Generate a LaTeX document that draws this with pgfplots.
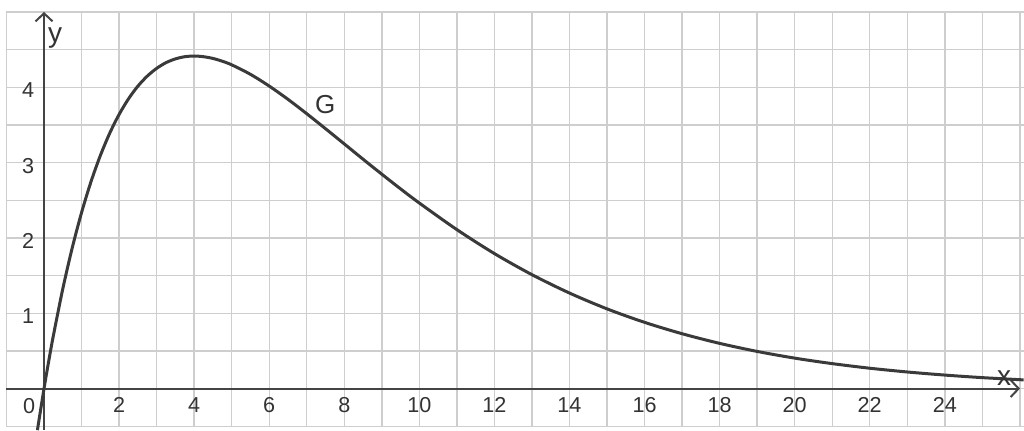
\documentclass[border=0pt]{standalone}
\usepackage{fontspec}
\setmainfont{Liberation Sans}
\usepackage{pgfplots}
\pgfplotsset{compat=1.18}
\usetikzlibrary{arrows.meta}
\definecolor{gridgray}{RGB}{206,206,206}
\definecolor{axisgray}{RGB}{68,68,68}
\definecolor{curvegray}{RGB}{58,58,58}
\definecolor{labelgray}{RGB}{51,51,51}

\begin{document}
\begin{tikzpicture}
\begin{axis}[
  scale only axis,
  width=508.7pt, height=207.1pt,
  xmin=-1, xmax=26.11, ymin=-0.5, ymax=5,
  axis lines=middle,
  axis line style={draw=axisgray, line width=1pt},
  x axis line style={-{Straight Barb[length=4pt,width=8.5pt]}, shorten >=2pt},
  y axis line style={-{Straight Barb[length=4pt,width=8.5pt]}, shorten <=-2pt},
  xtick={2,4,...,24}, ytick={1,2,3,4},
  minor xtick={-1,0,...,26}, minor ytick={-0.5,0,...,5},
  grid=both,
  major grid style={draw=gridgray, line width=0.7pt},
  minor grid style={draw=gridgray, line width=0.7pt},
  major tick length=0pt, minor tick length=0pt,
  tick label style={font=\fontsize{10.8}{12}\selectfont, text=labelgray},
  xticklabel style={yshift=-0.8pt},
  yticklabel style={xshift=-1.4pt, yshift=-1.5pt},
  /pgf/number format/assume math mode=true,
  clip=false,
]
\addplot[curvegray, line width=1.5pt, smooth] coordinates {
  (-0.176,-0.552) (0,0) (0.125,0.364) (0.25,0.705) (0.5,1.324) (0.75,1.865)
  (1,2.336) (1.25,2.744) (1.5,3.093) (1.75,3.390) (2,3.639) (2.25,3.846)
  (2.5,4.015) (2.75,4.148) (3,4.251) (3.25,4.327) (3.5,4.377) (3.75,4.406)
  (4,4.415) (4.25,4.406) (4.5,4.383) (4.75,4.346) (5,4.298) (5.5,4.172)
  (6,4.016) (6.5,3.840) (7,3.649) (7.5,3.450) (8,3.248) (8.5,3.045)
  (9,2.846) (9.5,2.651) (10,2.463) (11,2.110) (12,1.792) (13,1.512)
  (14,1.268) (15,1.058) (16,0.879) (17,0.728) (18,0.600) (19,0.493)
  (20,0.404) (21,0.331) (22,0.270) (23,0.220) (24,0.179) (25,0.145)
  (26.1,0.115)
};
\node[font=\fontsize{13}{15}\selectfont, text=labelgray] at (axis cs:7.49,3.77) {G};
\node[font=\fontsize{14}{16}\selectfont, text=labelgray, anchor=base] at (axis cs:0.293,4.588) {y};
\node[font=\fontsize{14}{16}\selectfont, text=labelgray, anchor=base] at (axis cs:25.58,0.046) {x};
\node[font=\fontsize{10.8}{12}\selectfont, text=labelgray] at (axis cs:-0.4,-0.23) {0};
\coordinate (bbl) at (axis cs:-1.173,-0.551);
\coordinate (btr) at (axis cs:26.11,5.159);
\end{axis}
\pgfresetboundingbox
\useasboundingbox (bbl) rectangle (btr);
\end{tikzpicture}
\end{document}
